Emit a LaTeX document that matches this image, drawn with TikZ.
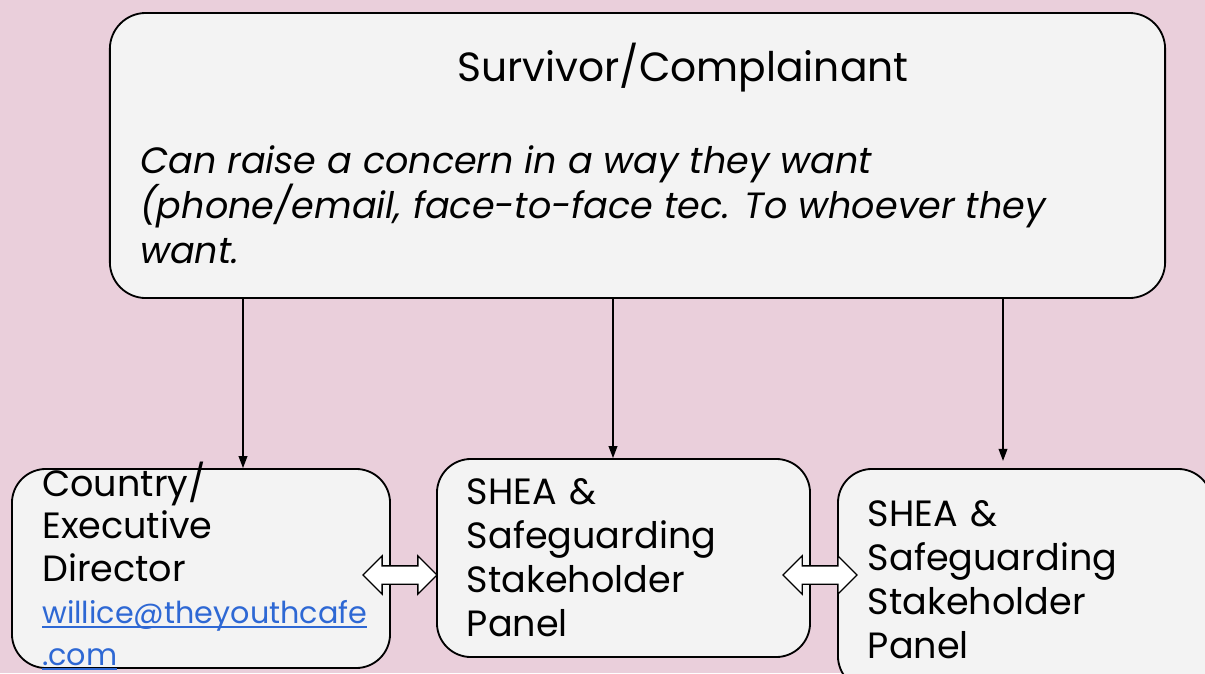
\documentclass[tikz,border=0pt]{standalone}
\usepackage{fontspec}
\setmainfont{Poppins}
\usetikzlibrary{arrows.meta,shapes.arrows}

\definecolor{bgpink}{RGB}{234,207,219}
\definecolor{boxgray}{RGB}{243,243,243}
\definecolor{linkblue}{RGB}{46,104,212}

\newsavebox{\mailbox}
\newcommand{\maillink}[1]{{\fontsize{21.5}{30}\selectfont\color{linkblue}\sbox{\mailbox}{#1}\rlap{\rule[-3pt]{\wd\mailbox}{1pt}}\usebox{\mailbox}}}

\begin{document}
\begin{tikzpicture}[x=0.025cm, y=-0.025cm,
  panel/.style={draw, line width=1.3pt, fill=boxgray, rounded corners=0.9cm, inner sep=0pt},
  member/.style={panel, rounded corners=0.85cm, align=left, inner xsep=0.75cm, font=\fontsize{26}{31.3}\selectfont},
  arr/.style={-{Triangle[length=0.3cm, width=0.22cm]}, line width=0.9pt},
  link/.style={double arrow, draw, line width=0.9pt, fill=white, minimum height=1.85cm, inner xsep=0pt, inner ysep=0.2125cm, double arrow head extend=0.25cm},
]

% background and frame
\clip (0,0) rectangle (1205,673);
\fill[bgpink] (0,0) rectangle (1205,673);

% Survivor box
\node[panel, minimum width=26.375cm, minimum height=7.125cm] (survivor) at (637.5,155.5) {};
\node[font=\fontsize{29}{34}\selectfont] (title) at (683,68) {Survivor/Complainant};
\node[anchor=west, align=left, inner sep=0pt, font=\fontsize{26}{32}\selectfont\itshape] (how) at (140,205) {Can raise a concern in a way they want\\(phone/email, face-to-face tec. To whoever they\\want.};

% Receiving points
\node[panel, rounded corners=0.85cm, minimum width=9.45cm, minimum height=4.975cm] (director) at (201,568.5) {};
\node[anchor=west, align=left, inner sep=0pt, font=\fontsize{26}{30}\selectfont] (directorText) at (42,566) {Country/\\Executive\\Director\\\maillink{willice@theyouthcafe}\\\maillink{.com}};
\node[member, minimum width=9.325cm, minimum height=4.95cm, text width=7.825cm] (panelA) at (623.5,558) {SHEA \&\\Safeguarding\\Stakeholder\\Panel};
\node[member, minimum width=9.35cm, minimum height=5.525cm, text width=7.85cm] (panelB) at (1025,579.5) {SHEA \&\\Safeguarding\\Stakeholder\\Panel};

% Reporting routes
\coordinate (r1) at (243,0);
\coordinate (r2) at (613,0);
\coordinate (r3) at (1003,0);
\draw[arr] (survivor.south -| r1) -- (director.north -| r1);
\draw[arr] (survivor.south -| r2) -- (panelA.north -| r2);
\draw[arr, shorten >=0.18cm] (survivor.south -| r3) -- (panelB.north -| r3);

% Two-way links
\node[link] (linkA) at (400,575) {};
\node[link] (linkB) at (820,575) {};

\end{tikzpicture}
\end{document}
